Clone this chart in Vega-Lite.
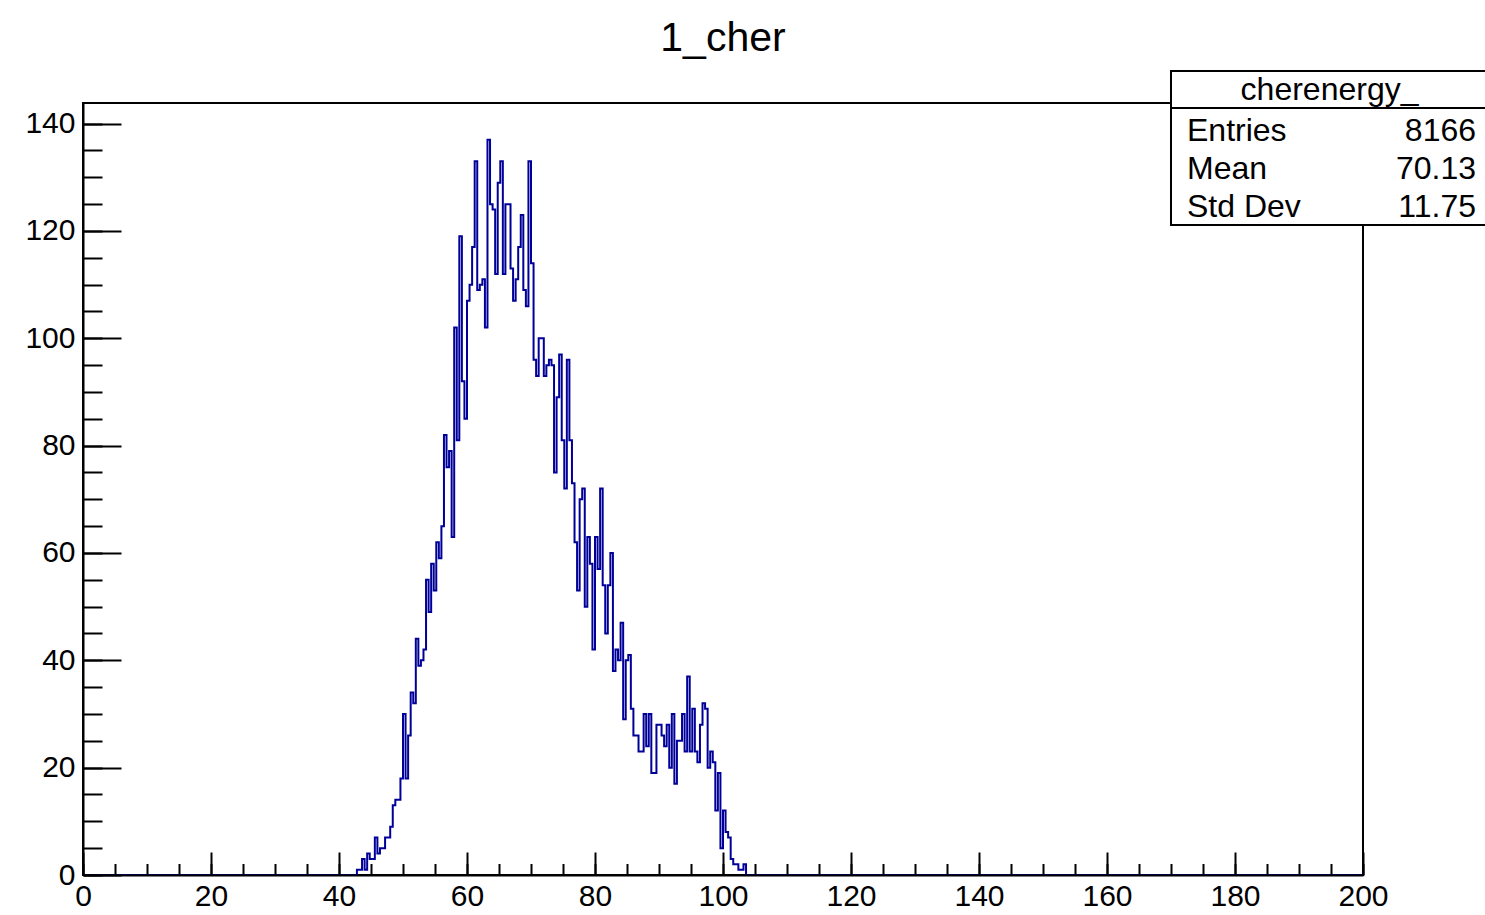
{
  "$schema": "https://vega.github.io/schema/vega-lite/v6.json",
  "width": 1280,
  "height": 772,
  "autosize": {"type": "none"},
  "padding": {"left": 83, "top": 103, "right": 122, "bottom": 40},
  "background": "white",
  "title": {"text": "1_cher", "font": "Liberation Sans", "fontSize": 41, "fontWeight": "normal", "color": "black", "anchor": "middle", "frame": "group", "baseline": "alphabetic", "offset": -22},
  "view": {"stroke": "black", "strokeWidth": 2},
  "datasets": {
    "hist": [
      {"lo": 0, "count": 0},
      {"lo": 42.8, "count": 1}, {"lo": 43.2, "count": 1}, {"lo": 43.6, "count": 3}, {"lo": 44.0, "count": 1},
      {"lo": 44.4, "count": 4}, {"lo": 44.8, "count": 3}, {"lo": 45.2, "count": 3}, {"lo": 45.6, "count": 7},
      {"lo": 46.0, "count": 4}, {"lo": 46.4, "count": 5}, {"lo": 46.8, "count": 5}, {"lo": 47.2, "count": 7},
      {"lo": 47.6, "count": 7}, {"lo": 48.0, "count": 9}, {"lo": 48.4, "count": 13}, {"lo": 48.8, "count": 14},
      {"lo": 49.2, "count": 14}, {"lo": 49.6, "count": 18}, {"lo": 50.0, "count": 30}, {"lo": 50.4, "count": 18},
      {"lo": 50.8, "count": 26}, {"lo": 51.2, "count": 34}, {"lo": 51.6, "count": 32}, {"lo": 52.0, "count": 44},
      {"lo": 52.4, "count": 39}, {"lo": 52.8, "count": 40}, {"lo": 53.2, "count": 42}, {"lo": 53.6, "count": 55},
      {"lo": 54.0, "count": 49}, {"lo": 54.4, "count": 58}, {"lo": 54.8, "count": 53}, {"lo": 55.2, "count": 62},
      {"lo": 55.6, "count": 59}, {"lo": 56.0, "count": 65}, {"lo": 56.4, "count": 82}, {"lo": 56.8, "count": 76},
      {"lo": 57.2, "count": 79}, {"lo": 57.6, "count": 63}, {"lo": 58.0, "count": 102}, {"lo": 58.4, "count": 81},
      {"lo": 58.8, "count": 119}, {"lo": 59.2, "count": 92}, {"lo": 59.6, "count": 85}, {"lo": 60.0, "count": 107},
      {"lo": 60.4, "count": 110}, {"lo": 60.8, "count": 117}, {"lo": 61.2, "count": 133}, {"lo": 61.6, "count": 109},
      {"lo": 62.0, "count": 110}, {"lo": 62.4, "count": 111}, {"lo": 62.8, "count": 102}, {"lo": 63.2, "count": 137},
      {"lo": 63.6, "count": 125}, {"lo": 64.0, "count": 124}, {"lo": 64.4, "count": 112}, {"lo": 64.8, "count": 129},
      {"lo": 65.2, "count": 133}, {"lo": 65.6, "count": 112}, {"lo": 66.0, "count": 125}, {"lo": 66.4, "count": 125},
      {"lo": 66.8, "count": 113}, {"lo": 67.2, "count": 107}, {"lo": 67.6, "count": 111}, {"lo": 68.0, "count": 117},
      {"lo": 68.4, "count": 123}, {"lo": 68.8, "count": 109}, {"lo": 69.2, "count": 106}, {"lo": 69.6, "count": 133},
      {"lo": 70.0, "count": 114}, {"lo": 70.4, "count": 96}, {"lo": 70.8, "count": 93}, {"lo": 71.2, "count": 100},
      {"lo": 71.6, "count": 100}, {"lo": 72.0, "count": 93}, {"lo": 72.4, "count": 95}, {"lo": 72.8, "count": 96},
      {"lo": 73.2, "count": 95}, {"lo": 73.6, "count": 75}, {"lo": 74.0, "count": 89}, {"lo": 74.4, "count": 97},
      {"lo": 74.8, "count": 81}, {"lo": 75.2, "count": 72}, {"lo": 75.6, "count": 96}, {"lo": 76.0, "count": 81},
      {"lo": 76.4, "count": 73}, {"lo": 76.8, "count": 62}, {"lo": 77.2, "count": 53}, {"lo": 77.6, "count": 70},
      {"lo": 78.0, "count": 72}, {"lo": 78.4, "count": 50}, {"lo": 78.8, "count": 63}, {"lo": 79.2, "count": 58},
      {"lo": 79.6, "count": 42}, {"lo": 80.0, "count": 63}, {"lo": 80.4, "count": 57}, {"lo": 80.8, "count": 72},
      {"lo": 81.2, "count": 54}, {"lo": 81.6, "count": 45}, {"lo": 82.0, "count": 54}, {"lo": 82.4, "count": 60},
      {"lo": 82.8, "count": 38}, {"lo": 83.2, "count": 42}, {"lo": 83.6, "count": 40}, {"lo": 84.0, "count": 47},
      {"lo": 84.4, "count": 29}, {"lo": 84.8, "count": 40}, {"lo": 85.2, "count": 41}, {"lo": 85.6, "count": 31},
      {"lo": 86.0, "count": 26}, {"lo": 86.4, "count": 26}, {"lo": 86.8, "count": 23}, {"lo": 87.2, "count": 23},
      {"lo": 87.6, "count": 30}, {"lo": 88.0, "count": 24}, {"lo": 88.4, "count": 30}, {"lo": 88.8, "count": 19},
      {"lo": 89.2, "count": 19}, {"lo": 89.6, "count": 28}, {"lo": 90.0, "count": 28}, {"lo": 90.4, "count": 26},
      {"lo": 90.8, "count": 24}, {"lo": 91.2, "count": 28}, {"lo": 91.6, "count": 20}, {"lo": 92.0, "count": 30},
      {"lo": 92.4, "count": 17}, {"lo": 92.8, "count": 25}, {"lo": 93.2, "count": 25}, {"lo": 93.6, "count": 30},
      {"lo": 94.0, "count": 23}, {"lo": 94.4, "count": 37}, {"lo": 94.8, "count": 23}, {"lo": 95.2, "count": 31},
      {"lo": 95.6, "count": 23}, {"lo": 96.0, "count": 21}, {"lo": 96.4, "count": 28}, {"lo": 96.8, "count": 32},
      {"lo": 97.2, "count": 31}, {"lo": 97.6, "count": 20}, {"lo": 98.0, "count": 23}, {"lo": 98.4, "count": 21},
      {"lo": 98.8, "count": 12}, {"lo": 99.2, "count": 19}, {"lo": 99.6, "count": 5}, {"lo": 100.0, "count": 12},
      {"lo": 100.4, "count": 8}, {"lo": 100.8, "count": 7}, {"lo": 101.2, "count": 3}, {"lo": 101.6, "count": 2},
      {"lo": 102.0, "count": 2}, {"lo": 102.4, "count": 1}, {"lo": 102.8, "count": 1}, {"lo": 103.2, "count": 2},
      {"lo": 103.6, "count": 0},
      {"lo": 200, "count": 0}
    ],
    "stats": [
      {"label": "cherenergy_", "value": ""},
      {"label": "Entries", "value": "8166"},
      {"label": "Mean", "value": "70.13"},
      {"label": "Std Dev", "value": "11.75"}
    ]
  },
  "resolve": {"axis": {"x": "independent", "y": "independent"}},
  "layer": [
    {
      "data": {"name": "hist"},
      "mark": {"type": "line", "interpolate": "step-after", "color": "#000099", "strokeWidth": 2},
      "encoding": {
        "x": {"field": "lo", "type": "quantitative", "scale": {"domain": [0, 200], "nice": false, "zero": false},
          "axis": {"orient": "bottom", "values": [0, 20, 40, 60, 80, 100, 120, 140, 160, 180, 200], "title": null, "grid": false,
            "domain": true, "domainColor": "black", "domainWidth": 2, "zindex": 1,
            "ticks": true, "tickSize": -23, "tickWidth": 2, "tickColor": "black",
            "labels": true, "labelFont": "Liberation Sans", "labelFontSize": 30, "labelColor": "black", "labelPadding": 29,
            "labelFlush": false, "labelOverlap": false, "labelBound": false, "labelAngle": 0}},
        "y": {"field": "count", "type": "quantitative", "scale": {"domain": [0, 143.85], "nice": false, "zero": false},
          "axis": {"orient": "left", "values": [0, 20, 40, 60, 80, 100, 120, 140], "title": null, "grid": false,
            "domain": true, "domainColor": "black", "domainWidth": 2, "zindex": 1,
            "ticks": true, "tickSize": -38, "tickWidth": 2, "tickColor": "black",
            "labels": true, "labelFont": "Liberation Sans", "labelFontSize": 30, "labelColor": "black", "labelPadding": 46,
            "labelFlush": false, "labelOverlap": false, "labelBound": false}}
      }
    },
    {
      "data": {"name": "hist"},
      "mark": {"type": "point", "opacity": 0},
      "encoding": {
        "x": {"field": "lo", "type": "quantitative",
          "axis": {"orient": "bottom", "values": [0, 5, 10, 15, 20, 25, 30, 35, 40, 45, 50, 55, 60, 65, 70, 75, 80, 85, 90, 95, 100, 105, 110, 115, 120, 125, 130, 135, 140, 145, 150, 155, 160, 165, 170, 175, 180, 185, 190, 195, 200],
            "title": null, "grid": false, "domain": false, "labels": false, "zindex": 1,
            "ticks": true, "tickSize": -11.5, "tickWidth": 2, "tickColor": "black"}},
        "y": {"field": "count", "type": "quantitative",
          "axis": {"orient": "left", "values": [0, 5, 10, 15, 20, 25, 30, 35, 40, 45, 50, 55, 60, 65, 70, 75, 80, 85, 90, 95, 100, 105, 110, 115, 120, 125, 130, 135, 140],
            "title": null, "grid": false, "domain": false, "labels": false, "zindex": 1,
            "ticks": true, "tickSize": -19, "tickWidth": 2, "tickColor": "black"}}
      }
    },
    {
      "data": {"name": "stats"},
      "transform": [{"filter": "datum.label === 'cherenergy_'"}],
      "layer": [
        {"mark": {"type": "rect", "fill": "white", "stroke": "black", "strokeWidth": 2},
         "encoding": {"x": {"datum": 170, "axis": null}, "x2": {"datum": 220}, "y": {"datum": 149.81, "axis": null}, "y2": {"datum": 121.12}}},
        {"mark": {"type": "rule", "color": "black", "strokeWidth": 2},
         "encoding": {"x": {"datum": 170, "axis": null}, "x2": {"datum": 220}, "y": {"datum": 142.92, "axis": null}}},
        {"mark": {"type": "text", "align": "center", "baseline": "alphabetic", "font": "Liberation Sans", "fontSize": 32, "color": "black"},
         "encoding": {"x": {"datum": 194.77, "axis": null}, "y": {"datum": 144.41, "axis": null}, "text": {"field": "label", "type": "nominal"}}}
      ]
    },
    {
      "data": {"name": "stats"},
      "transform": [{"filter": "datum.label === 'Entries'"}],
      "layer": [
        {"mark": {"type": "text", "align": "left", "baseline": "alphabetic", "font": "Liberation Sans", "fontSize": 32, "color": "black"},
         "encoding": {"x": {"datum": 172.5, "axis": null}, "y": {"datum": 136.7, "axis": null}, "text": {"field": "label", "type": "nominal"}}},
        {"mark": {"type": "text", "align": "right", "baseline": "alphabetic", "font": "Liberation Sans", "fontSize": 32, "color": "black"},
         "encoding": {"x": {"datum": 217.66, "axis": null}, "y": {"datum": 136.7, "axis": null}, "text": {"field": "value", "type": "nominal"}}}
      ]
    },
    {
      "data": {"name": "stats"},
      "transform": [{"filter": "datum.label === 'Mean'"}],
      "layer": [
        {"mark": {"type": "text", "align": "left", "baseline": "alphabetic", "font": "Liberation Sans", "fontSize": 32, "color": "black"},
         "encoding": {"x": {"datum": 172.5, "axis": null}, "y": {"datum": 129.65, "axis": null}, "text": {"field": "label", "type": "nominal"}}},
        {"mark": {"type": "text", "align": "right", "baseline": "alphabetic", "font": "Liberation Sans", "fontSize": 32, "color": "black"},
         "encoding": {"x": {"datum": 217.66, "axis": null}, "y": {"datum": 129.65, "axis": null}, "text": {"field": "value", "type": "nominal"}}}
      ]
    },
    {
      "data": {"name": "stats"},
      "transform": [{"filter": "datum.label === 'Std Dev'"}],
      "layer": [
        {"mark": {"type": "text", "align": "left", "baseline": "alphabetic", "font": "Liberation Sans", "fontSize": 32, "color": "black"},
         "encoding": {"x": {"datum": 172.5, "axis": null}, "y": {"datum": 122.6, "axis": null}, "text": {"field": "label", "type": "nominal"}}},
        {"mark": {"type": "text", "align": "right", "baseline": "alphabetic", "font": "Liberation Sans", "fontSize": 32, "color": "black"},
         "encoding": {"x": {"datum": 217.66, "axis": null}, "y": {"datum": 122.6, "axis": null}, "text": {"field": "value", "type": "nominal"}}}
      ]
    }
  ]
}
